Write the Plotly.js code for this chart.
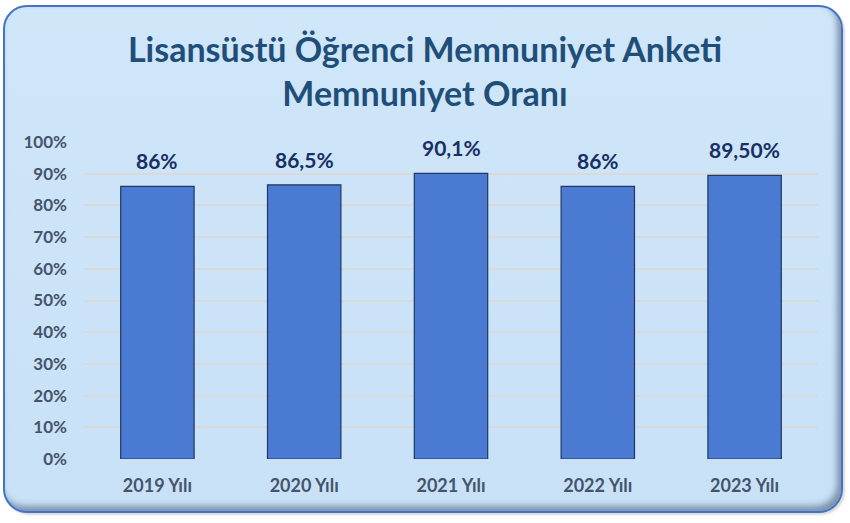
<!DOCTYPE html>
<html>
<head>
<meta charset="utf-8">
<script src="https://cdn.plot.ly/plotly-3.0.1.min.js"></script>
<style>
  html, body { margin: 0; padding: 0; background: #ffffff; }
  #wrap { position: relative; width: 850px; height: 523px; }
  #card {
    position: absolute; left: 3px; top: 5px; width: 836px; height: 504px;
    border: 2px solid #4472c4; border-radius: 24px;
    background: linear-gradient(180deg, #d0e6f9 0%, #c8e1f7 100%);
    box-shadow: inset -4px -5px 6px rgba(60,80,110,0.55), 2px 2px 2px rgba(0,0,0,0.15);
  }
  #chart { position: absolute; left: 0; top: 0; width: 850px; height: 523px; }
</style>
</head>
<body>
<div id="wrap">
  <div id="card"></div>
  <div id="chart"></div>
</div>
<script>
const categories = ["2019 Yılı", "2020 Yılı", "2021 Yılı", "2022 Yılı", "2023 Yılı"];
const values = [0.86, 0.865, 0.901, 0.86, 0.895];
const labels = ["86%", "86,5%", "90,1%", "86%", "89,50%"];
const yTickVals = [0, 0.1, 0.2, 0.3, 0.4, 0.5, 0.6, 0.7, 0.8, 0.9, 1.0];
const yTickText = ["0%", "10%", "20%", "30%", "40%", "50%", "60%", "70%", "80%", "90%", "100%"];

const trace = {
  type: "bar",
  x: categories,
  y: values,
  marker: {
    color: "#4b7ad2",
    line: { color: "#1f3864", width: 1.2 }
  },
  hoverinfo: "skip"
};

const annotations = categories.map((c, i) => ({
  x: c, y: values[i], xref: "x", yref: "y",
  text: labels[i], showarrow: false,
  yanchor: "bottom", yshift: 11,
  font: { family: "Lato, 'Open Sans', sans-serif", size: 21, color: "#172f63", weight: "bold" }
}));

const layout = {
  width: 850, height: 523,
  paper_bgcolor: "rgba(0,0,0,0)",
  plot_bgcolor: "rgba(0,0,0,0)",
  margin: { l: 84, r: 32, t: 142, b: 64 },
  title: {
    text: "<b>Lisansüstü Öğrenci Memnuniyet Anketi<br>Memnuniyet Oranı</b>",
    x: 0.5, xanchor: "center", y: 0.882, yanchor: "middle", yref: "container",
    font: { family: "Lato, 'Open Sans', sans-serif", size: 34, color: "#1f4e79" }
  },
  bargap: 0.5,
  showlegend: false,
  xaxis: {
    type: "category",
    showgrid: false, zeroline: false, showline: false,
    ticks: "", ticklabelstandoff: 14,
    tickfont: { family: "Lato, 'Open Sans', sans-serif", size: 18, color: "#44546a", weight: "bold" }
  },
  yaxis: {
    range: [0, 1],
    tickvals: yTickVals, ticktext: yTickText,
    showgrid: true, gridcolor: "#d9d9d9", gridwidth: 2,
    zeroline: false, showline: false, ticks: "",
    ticklabelstandoff: 16,
    tickfont: { family: "Lato, 'Open Sans', sans-serif", size: 17, color: "#44546a", weight: "bold" }
  },
  annotations: annotations
};

Plotly.newPlot("chart", [trace], layout, { displayModeBar: false, staticPlot: true });
</script>
</body>
</html>
